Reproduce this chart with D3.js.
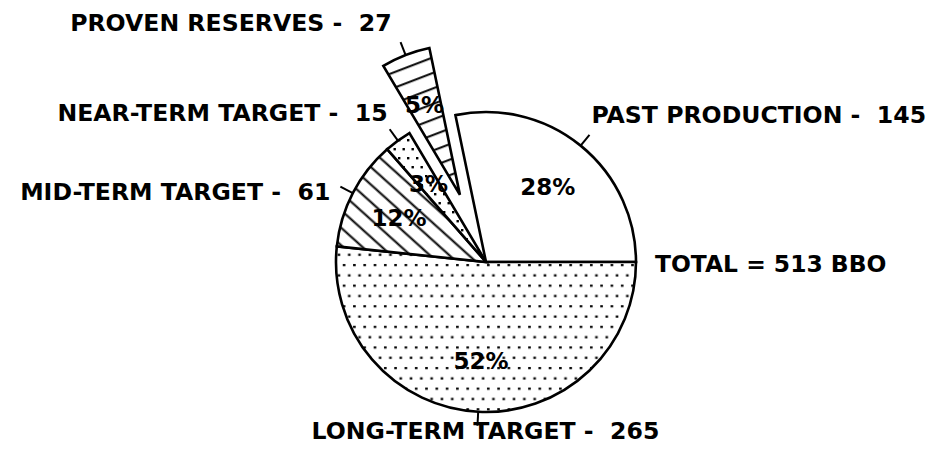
<!DOCTYPE html>
<html>
<head>
<meta charset="utf-8">
<script src="https://cdn.jsdelivr.net/npm/d3@7"></script>
<style>
  html, body { margin: 0; padding: 0; background: #fff; }
  text { font-family: "DejaVu Sans", "Liberation Sans", Arial, sans-serif; font-weight: bold; fill: #000; }
</style>
</head>
<body>
<svg id="chart" width="933" height="456"></svg>
<script>
// Datos (miles de millones de barriles)
const categories = ["PAST PRODUCTION", "LONG-TERM TARGET", "MID-TERM TARGET", "NEAR-TERM TARGET", "PROVEN RESERVES"];
const values = [145, 265, 61, 15, 27];
const percentLabels = ["28%", "52%", "12%", "3%", "5%"];
const totalLabel = "TOTAL = 513 BBO";

let svg = d3.select("#chart"),
    width = 933,
    height = 456;

let cx = 486, cy = 262, radius = 150;

// Rellenos y colocación de las etiquetas (por sector)
const fills = ["#fff", "url(#dots)", "url(#hatch)", "url(#dots-sparse)", "url(#stripes)"];
const explode = [0, 0, 0, 0, 72];
const labelPos = [
    {anchor: "start", dx: 2, dy: -12},
    {anchor: "middle", dx: 8, dy: 13},
    {anchor: "end", dx: -10, dy: 13},
    {anchor: "end", dx: -2, dy: -8},
    {anchor: "end", dx: -9, dy: -11}
];

let total = d3.sum(values);
let start = Math.PI / 2 - 2 * Math.PI * values[0] / total;

let pie = d3.pie()
    .sort(null)
    .startAngle(start)
    .endAngle(start + 2 * Math.PI);

let arc = d3.arc().innerRadius(0).outerRadius(radius);
let pctArc = d3.arc().innerRadius(98).outerRadius(98);

// Patrones
let defs = svg.append("defs");

let dots = defs.append("pattern")
    .attr("id", "dots")
    .attr("patternUnits", "userSpaceOnUse")
    .attr("width", 10.3).attr("height", 20.6);
dots.append("rect").attr("x", 1).attr("y", 2).attr("width", 2.6).attr("height", 2.2);
dots.append("rect").attr("x", 6.15).attr("y", 12.3).attr("width", 2.6).attr("height", 2.2);

let sparse = defs.append("pattern")
    .attr("id", "dots-sparse")
    .attr("patternUnits", "userSpaceOnUse")
    .attr("width", 9).attr("height", 18);
sparse.append("rect").attr("x", 2).attr("y", 3).attr("width", 2.4).attr("height", 2.4);
sparse.append("rect").attr("x", 6.5).attr("y", 12).attr("width", 2.4).attr("height", 2.4);

let hatch = defs.append("pattern")
    .attr("id", "hatch")
    .attr("patternUnits", "userSpaceOnUse")
    .attr("width", 13).attr("height", 13)
    .attr("patternTransform", "rotate(42)");
hatch.append("rect").attr("width", 13).attr("height", 13).attr("fill", "#fff");
hatch.append("line")
    .attr("x1", 0).attr("y1", 6.5).attr("x2", 13).attr("y2", 6.5)
    .attr("stroke", "#000").attr("stroke-width", 2);

let stripes = defs.append("pattern")
    .attr("id", "stripes")
    .attr("patternUnits", "userSpaceOnUse")
    .attr("width", 14).attr("height", 14.5)
    .attr("patternTransform", "rotate(-21)");
stripes.append("rect").attr("width", 14).attr("height", 14.5).attr("fill", "#fff");
stripes.append("line")
    .attr("x1", 0).attr("y1", 7).attr("x2", 14).attr("y2", 7)
    .attr("stroke", "#000").attr("stroke-width", 2);

// Grupo por sector
let arcs = pie(values);
let mid = d => (d.startAngle + d.endAngle) / 2;

let group = svg.selectAll("g.slice")
    .data(arcs)
    .enter()
    .append("g")
    .attr("class", "slice")
    .attr("transform", (d, i) => {
        let a = mid(d);
        return "translate(" + (cx + explode[i] * Math.sin(a)) + "," + (cy - explode[i] * Math.cos(a)) + ")";
    });

// Fondo blanco bajo los puntos
group.append("path")
    .attr("d", arc)
    .attr("fill", "#fff");

group.append("path")
    .attr("d", arc)
    .attr("fill", (d, i) => fills[i])
    .attr("stroke", "#000")
    .attr("stroke-width", 2.6)
    .attr("stroke-linejoin", "miter");

// Marcas radiales
group.append("line")
    .attr("x1", d => radius * Math.sin(mid(d)))
    .attr("y1", d => -radius * Math.cos(mid(d)))
    .attr("x2", d => (radius + 14) * Math.sin(mid(d)))
    .attr("y2", d => -(radius + 14) * Math.cos(mid(d)))
    .attr("stroke", "#000")
    .attr("stroke-width", 2);

// Porcentajes
group.append("text")
    .text((d, i) => percentLabels[i])
    .attr("x", d => pctArc.centroid(d)[0])
    .attr("y", d => pctArc.centroid(d)[1] + 9)
    .attr("text-anchor", "middle")
    .attr("font-size", "23px");

// Etiquetas exteriores
group.append("text")
    .text((d, i) => categories[i] + " -  " + values[i])
    .attr("x", (d, i) => (radius + 14) * Math.sin(mid(d)) + labelPos[i].dx)
    .attr("y", (d, i) => -(radius + 14) * Math.cos(mid(d)) + labelPos[i].dy)
    .attr("text-anchor", (d, i) => labelPos[i].anchor)
    .attr("font-size", "23.6px")
    .style("white-space", "pre");

// Total
svg.append("text")
    .text(totalLabel)
    .attr("x", cx + radius + 19)
    .attr("y", cy + 10)
    .attr("font-size", "23.4px");
</script>
</body>
</html>
